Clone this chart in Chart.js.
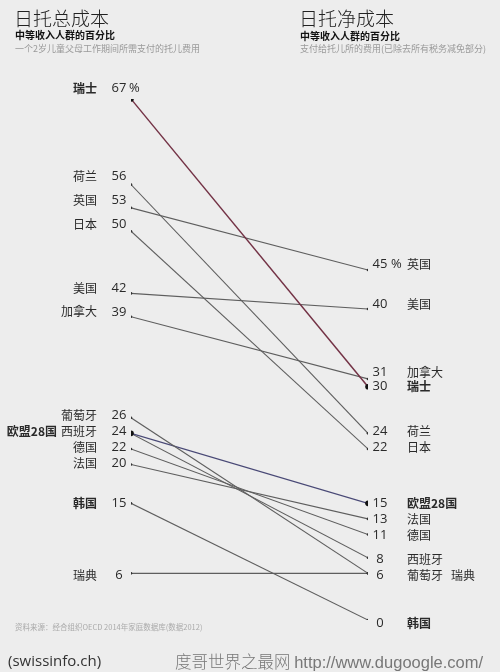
<!DOCTYPE html>
<html>
<head>
<meta charset="utf-8">
<script src="https://cdn.jsdelivr.net/npm/chart.js@4/dist/chart.umd.min.js"></script>
<style>
  body { margin: 0; background: #ededed; }
  #wrap { position: relative; width: 500px; height: 672px; background: #ededed; overflow: hidden;
          font-family: "Noto Sans CJK SC", "Open Sans", sans-serif; }
  #chart { position: absolute; left: 0; top: 0; }
  .t { position: absolute; white-space: nowrap; }
  .big { font-size: 19px; color: #222; font-weight: 300; }
  .sub { font-size: 10px; font-weight: 700; color: #111; }
  .note { font-size: 9px; color: #9a9a9a; }
</style>
</head>
<body>
<div id="wrap">
  <canvas id="chart" width="500" height="672"></canvas>
  <div class="t big" style="left:14px;top:4px;">日托总成本</div>
  <div class="t sub" style="left:15px;top:27px;">中等收入人群的百分比</div>
  <div class="t note" style="left:15px;top:42px;">一个2岁儿童父母工作期间所需支付的托儿费用</div>
  <div class="t big" style="left:299px;top:4px;">日托净成本</div>
  <div class="t sub" style="left:300px;top:28px;">中等收入人群的百分比</div>
  <div class="t note" style="left:300px;top:42px;">支付给托儿所的费用(已除去所有税务减免部分)</div>
  <div class="t" style="left:15px;top:621px;font-size:7.5px;color:#aaa;">资料来源：经合组织OECD 2014年家庭数据库(数据2012)</div>
  <div class="t" style="left:8px;top:650px;font-size:15px;color:#333;font-family:'Open Sans',sans-serif;">(swissinfo.ch)</div>
  <div class="t" style="left:175px;top:649px;font-size:16.5px;color:#777;font-weight:300;">度哥世界之最网 <span style="font-family:'Liberation Sans',sans-serif;">http://www.dugoogle.com/</span></div>
</div>
<script>
// 日托成本：总成本 vs 净成本（中等收入人群的百分比）
const countries = ['瑞士', '荷兰', '英国', '日本', '美国', '加拿大', '葡萄牙', '欧盟28国', '西班牙', '德国', '法国', '韩国', '瑞典'];
const grossCost = [67, 56, 53, 50, 42, 39, 26, 24, 24, 22, 20, 15, 6];
const netCost = [30, 24, 45, 22, 40, 31, 6, 15, 8, 11, 13, 0, 6];
const boldNames = ['瑞士', '欧盟28国', '韩国'];

const lineColor = {
    '瑞士': '#733245',
    '欧盟28国': '#494976'
};

const numFont = '"Open Sans", "Noto Sans CJK SC", sans-serif';
const cjkFont = '"Noto Sans CJK SC", sans-serif';

// group names sharing the same value on one side
function groupByValue(values) {
    const groups = [];
    values.forEach((v, i) => {
        let g = groups.find(item => item.value === v);
        if (!g) {
            g = { value: v, names: [] };
            groups.push(g);
        }
        g.names.push(countries[i]);
    });
    return groups;
}

// labels sit a little above their dot, more so near the top
function labelShift(v) {
    return -(v - 15) * 0.2;
}

const labelPlugin = {
    id: 'slopeLabels',
    afterDatasetsDraw(chart) {
        const ctx = chart.ctx;
        const y = chart.scales.y;
        ctx.save();
        ctx.textBaseline = 'middle';
        ctx.fillStyle = '#2a2a2a';

        // left side
        const leftMax = Math.max(...grossCost);
        groupByValue(grossCost).forEach(g => {
            const py = y.getPixelForValue(g.value) + labelShift(g.value);
            ctx.font = '13px ' + numFont;
            ctx.textAlign = 'center';
            ctx.fillText(String(g.value), 119, py);
            if (g.value === leftMax) {
                ctx.textAlign = 'left';
                ctx.fillText('%', 129, py);
            }
            let x = 97;
            ctx.textAlign = 'right';
            for (let i = g.names.length - 1; i >= 0; i--) {
                const name = g.names[i];
                ctx.font = (boldNames.includes(name) ? 'bold ' : '') + '12px ' + cjkFont;
                ctx.fillText(name, x, py);
                x -= ctx.measureText(name).width + 4;
            }
        });

        // right side
        const rightMax = Math.max(...netCost);
        groupByValue(netCost).forEach(g => {
            let py = y.getPixelForValue(g.value) + labelShift(g.value);
            if (g.value === 31) py -= 3;
            if (g.value === 30) py += 3;
            ctx.font = '13px ' + numFont;
            ctx.textAlign = 'center';
            ctx.fillText(String(g.value), 380, py);
            if (g.value === rightMax) {
                ctx.textAlign = 'left';
                ctx.fillText('%', 391, py);
            }
            let x = 407;
            ctx.textAlign = 'left';
            g.names.forEach(name => {
                ctx.font = (boldNames.includes(name) ? 'bold ' : '') + '12px ' + cjkFont;
                ctx.fillText(name, x, py);
                x += ctx.measureText(name).width + 8;
            });
        });
        ctx.restore();
    }
};

const datasets = countries.map((name, i) => {
    const highlight = name in lineColor;
    return {
        label: name,
        data: [{ x: 0, y: grossCost[i] }, { x: 1, y: netCost[i] }],
        borderColor: lineColor[name] || '#5e5e5e',
        borderWidth: highlight ? 1.4 : 1.1,
        pointRadius: highlight ? 2.8 : 1.3,
        pointBackgroundColor: highlight ? '#111' : '#333',
        pointBorderWidth: 0
    };
});

new Chart(document.getElementById('chart'), {
    type: 'line',
    data: { datasets: datasets },
    options: {
        responsive: false,
        animation: false,
        layout: { padding: { left: 131, right: 132, top: 99, bottom: 52 } },
        scales: {
            x: { type: 'linear', min: 0, max: 1, display: false },
            y: { min: 0, max: 67, display: false }
        },
        plugins: {
            legend: { display: false },
            tooltip: { enabled: false }
        }
    },
    plugins: [labelPlugin]
});
</script>
</body>
</html>
